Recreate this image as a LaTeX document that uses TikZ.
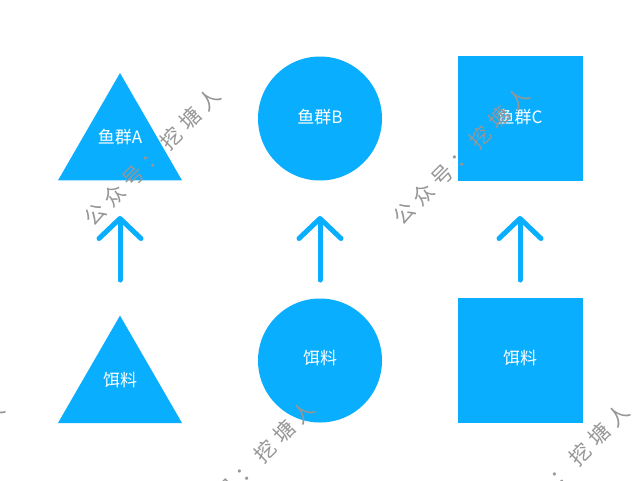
\documentclass[tikz,border=0pt]{standalone}
\usepackage{fontspec}
\setmainfont{Noto Sans CJK SC}
\usetikzlibrary{shapes.geometric,arrows.meta}
\definecolor{fishblue}{RGB}{10,174,254}
\definecolor{wmgray}{RGB}{150,150,150}
\tikzset{
  shapefill/.style={fill=fishblue,draw=none,inner sep=0pt,outer sep=0pt},
  tri/.style={shapefill,regular polygon,regular polygon sides=3,minimum size=143.2pt},
  circ/.style={shapefill,circle,minimum size=124pt},
  sq/.style={shapefill,rectangle,minimum size=125pt},
  lab/.style={text=white,font=\fontsize{17}{18}\selectfont,inner sep=0pt},
  upar/.style={draw=fishblue,line width=5pt,line cap=round,-{Straight Barb[length=20pt,width=42pt,round]}},
  wm/.style={text=wmgray,font=\fontsize{21}{22}\selectfont,inner sep=0pt,rotate=45}
}
\newcommand{\wmtext}{公\hspace{6pt}众\hspace{6pt}号\hspace{6pt}：\hspace{6pt}挖\hspace{6pt}塘\hspace{6pt}人}
\begin{document}
\begin{tikzpicture}[x=1pt,y=-1pt]
\useasboundingbox[fill=white] (0,0) rectangle (640,480);
% top row
\node[tri] (fa) at (120,144.6) {};
\node[circ] (fb) at (320,118.5) {};
\node[sq] (fc) at (520.5,118.5) {};
\node[lab] (la) at (120,137) {鱼群A};
\node[lab] (lb) at (320,117) {鱼群B};
\node[lab] (lc) at (520,117) {鱼群C};
% bottom row
\node[tri] (ba) at (120,387.2) {};
\node[circ] (bb) at (320,360.5) {};
\node[sq] (bc) at (520.5,360.5) {};
\node[lab] (lba) at (120,380) {饵料};
\node[lab] (lbb) at (320,358) {饵料};
\node[lab] (lbc) at (520,358) {饵料};
% arrows
\coordinate (sa) at (120,280); \coordinate (ea) at (120,216);
\coordinate (sb) at (320,280); \coordinate (eb) at (320,216);
\coordinate (sc) at (520,280); \coordinate (ec) at (520,216);
\draw[upar] (sa) -- (ea);
\draw[upar] (sb) -- (eb);
\draw[upar] (sc) -- (ec);
% watermarks
\node[wm] (w1) at (152,157) {\wmtext};
\node[wm] (w2) at (461,156) {\wmtext};
\node[wm] (w3) at (246,470) {\wmtext};
\node[wm] (w4) at (561,473) {\wmtext};
\node[wm] (w5) at (-64,470) {\wmtext};
\end{tikzpicture}
\end{document}
